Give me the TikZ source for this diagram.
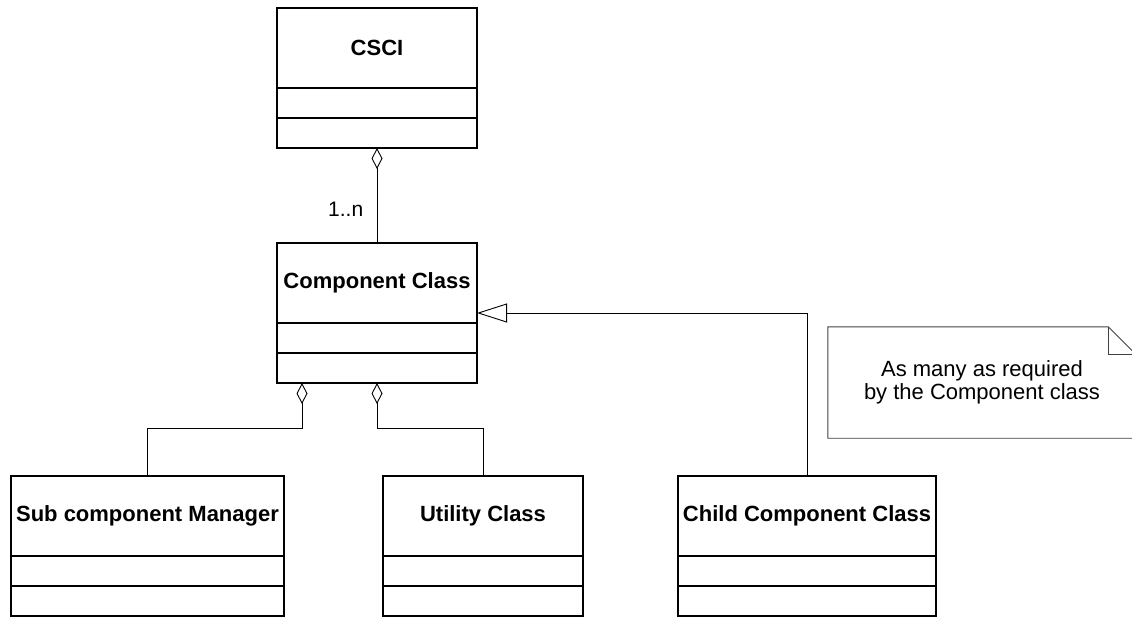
\documentclass[tikz,border=0pt]{standalone}
\usepackage{fontspec}
\setmainfont{Liberation Sans}
\usetikzlibrary{%
  calc,arrows.meta,shapes,%
  positioning}
\tikzset {>=Stealth}
\tikzset{
  classhead/.style={draw,line width=1.7pt,outer sep=0pt,inner sep=2pt,
    minimum height=80pt,anchor=north,font=\fontsize{22}{24}\selectfont\bfseries},
  classpart/.style={draw,line width=1.7pt,outer sep=0pt,minimum height=30pt,anchor=north},
  link/.style={line width=.9pt},
  aggr/.style={link,{Diamond[open,length=21pt,width=11pt]}-},
  inherit/.style={link,{Triangle[open,length=30pt,width=19pt]}-},
  notebox/.style={line width=.9pt,draw=black!75},
  notetext/.style={align=center,minimum width=308pt,minimum height=111pt,
    font=\fontsize{22}{23}\selectfont},
  mult/.style={font=\fontsize{21}{23}\selectfont}
}

\begin{document}
\begin{tikzpicture}[x=1pt,y=-1pt]
\useasboundingbox (0,0) rectangle (1132,616);
\node[classhead,minimum width=200pt] (csci) at (377,8) {CSCI};
\node[classpart,minimum width=200pt] (csci-attr) at (csci.south) {};
\node[classpart,minimum width=200pt] (csci-ops) at (csci-attr.south) {};
\node[classhead,minimum width=200pt] (comp) at (377,243) {Component Class};
\node[classpart,minimum width=200pt] (comp-attr) at (comp.south) {};
\node[classpart,minimum width=200pt] (comp-ops) at (comp-attr.south) {};
\node[classhead,minimum width=273pt] (sub) at (147.5,476) {Sub component Manager};
\node[classpart,minimum width=273pt] (sub-attr) at (sub.south) {};
\node[classpart,minimum width=273pt] (sub-ops) at (sub-attr.south) {};
\node[classhead,minimum width=200pt] (util) at (483,476) {Utility Class};
\node[classpart,minimum width=200pt] (util-attr) at (util.south) {};
\node[classpart,minimum width=200pt] (util-ops) at (util-attr.south) {};
\node[classhead,minimum width=258pt] (child) at (807,476) {Child Component Class};
\node[classpart,minimum width=258pt] (child-attr) at (child.south) {};
\node[classpart,minimum width=258pt] (child-ops) at (child-attr.south) {};
\node[notetext] (note) at (982,382.5) {As many as required\\by the Component class};
\draw[notebox] (note.north west) -- ([xshift=-28pt]note.north east)
  -- ([yshift=-28pt]note.north east) -- (note.south east) -- (note.south west) -- cycle;
\draw[notebox] ([xshift=-28pt]note.north east) |- ([yshift=-28pt]note.north east);
\draw[aggr] (csci-ops.south) -- node[mult,pos=.64,left=10pt] (n) {1..n} (comp.north);
\draw[aggr] ([xshift=-75pt]comp-ops.south) -- ++(0,45) -| (sub.north);
\draw[aggr] (comp-ops.south) -- ++(0,45) -| (util.north);
\draw[inherit] ([yshift=10pt]comp.south east) -| (child.north);
\end{tikzpicture}
\end{document}
